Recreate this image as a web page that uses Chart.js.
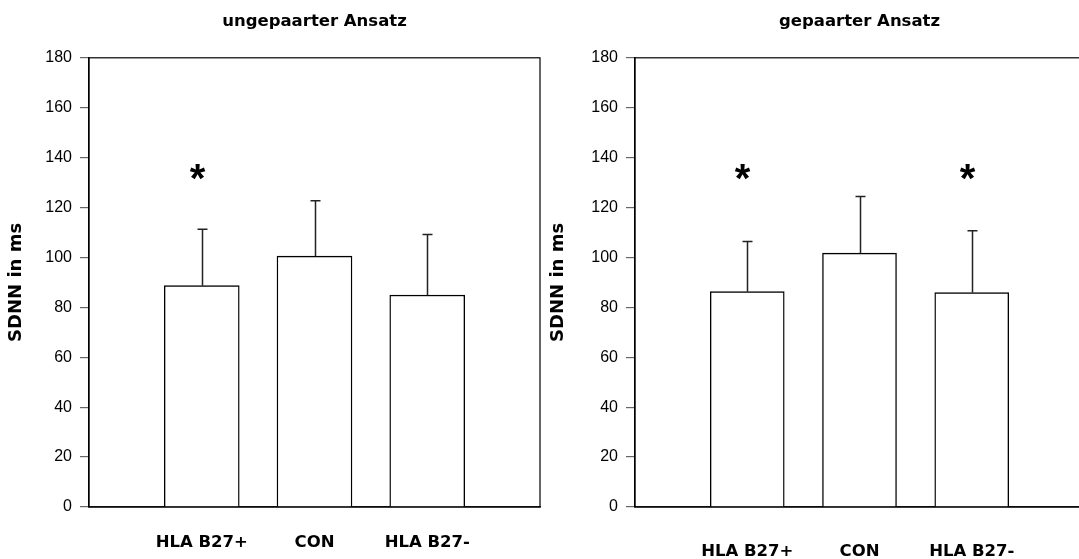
<!DOCTYPE html>
<html>
<head>
<meta charset="utf-8">
<script src="https://cdn.jsdelivr.net/npm/chart.js@4.4.1/dist/chart.umd.min.js"></script>
<style>
  html, body { margin: 0; padding: 0; overflow: hidden; background: #fff; width: 1079px; height: 559px; }
  #links { position: absolute; left: 0; top: 0; }
  #rechts { position: absolute; left: 540px; top: 0; }
</style>
</head>
<body>
<canvas id="links" width="542" height="559"></canvas>
<canvas id="rechts" width="546" height="559"></canvas>
<script>
// Werte (SDNN in ms, Mittelwert und SD)
const kategorien = ['HLA B27+', 'CON', 'HLA B27-'];
const ungepaartMittel = [88.7, 100.5, 84.9];
const ungepaartSD = [22.6, 22.2, 24.3];
const ungepaartStern = [true, false, false];
const gepaartMittel = [86.3, 101.7, 85.9];
const gepaartSD = [20.1, 22.7, 24.8];
const gepaartStern = [true, false, true];
const sternWert = 134;
const yMin = 0, yMax = 180, yStep = 20;

Chart.defaults.font.family = "'Liberation Sans', Arial, sans-serif";
Chart.defaults.color = '#000';

const fettSchrift = "'DejaVu Sans', sans-serif";

// Rahmen, Fehlerbalken und Sternchen
const fehlerbalken = {
  id: 'fehlerbalken',
  afterDatasetsDraw(chart, args, opts) {
    const { ctx, chartArea: a } = chart;
    const x = chart.scales.x, y = chart.scales.y;
    ctx.save();
    ctx.strokeStyle = '#000';
    ctx.lineWidth = 1.2;
    ctx.strokeRect(a.left, a.top, a.right - a.left, a.bottom - a.top);
    opts.mittel.forEach((m, i) => {
      const px = Math.round(x.getPixelForValue(i + 1)) + 0.5;
      const yu = y.getPixelForValue(m);
      const yo = y.getPixelForValue(m + opts.sd[i]);
      ctx.strokeStyle = '#222';
      ctx.lineWidth = 1.5;
      ctx.beginPath();
      ctx.moveTo(px, yu);
      ctx.lineTo(px, yo);
      ctx.moveTo(px - 5, yo);
      ctx.lineTo(px + 5, yo);
      ctx.stroke();
      if (opts.stern[i]) {
        const gr = 40;
        ctx.font = 'bold ' + gr + "px 'Liberation Sans', Arial, sans-serif";
        ctx.fillStyle = '#000';
        ctx.textAlign = 'center';
        ctx.textBaseline = 'alphabetic';
        ctx.fillText('*', px - 5, y.getPixelForValue(sternWert) + gr * 0.48);
      }
    });
    ctx.restore();
  }
};

function baueDiagramm(id, titel, mittel, sd, stern, achsBreite, titelPad, labelPad, balken) {
  new Chart(document.getElementById(id), {
    type: 'bar',
    data: {
      labels: ['', ...kategorien, ''],
      datasets: [{
        data: [null, ...mittel, null],
        backgroundColor: '#fff',
        borderColor: '#000',
        borderWidth: 1.4,
        barThickness: balken
      }]
    },
    options: {
      responsive: false,
      animation: false,
      layout: { padding: { left: 0, right: 2, top: 0, bottom: 0 } },
      plugins: {
        legend: { display: false },
        tooltip: { enabled: false },
        title: {
          display: true,
          fullSize: false,
          text: titel,
          font: { family: fettSchrift, size: 16.5, weight: 'bold' },
          color: '#000',
          padding: { top: 12, bottom: 26 }
        },
        fehlerbalken: { mittel, sd, stern }
      },
      scales: {
        x: {
          offset: false,
          grid: { display: true, drawOnChartArea: false, drawTicks: true, tickLength: labelPad, color: 'rgba(0,0,0,0)' },
          border: { color: '#222', width: 1.6 },
          ticks: {
            autoSkip: false,
            maxRotation: 0,
            padding: 0,
            font: { family: fettSchrift, size: 16.5, weight: 'bold' }
          },
          afterFit(s) { s.height = 52; }
        },
        y: {
          min: yMin,
          max: yMax,
          ticks: { stepSize: yStep, padding: 8, font: { size: 16 } },
          grid: { drawOnChartArea: false, tickLength: 9, color: '#666', lineWidth: 1.2 },
          border: { color: '#000', width: 1.3 },
          title: {
            display: true,
            text: 'SDNN in ms',
            font: { family: fettSchrift, size: 18, weight: 'bold' },
            padding: { top: titelPad, bottom: 0 }
          },
          afterFit(s) { s.width = achsBreite; }
        }
      }
    },
    plugins: [fehlerbalken]
  });
}

baueDiagramm('links', 'ungepaarter Ansatz', ungepaartMittel, ungepaartSD, ungepaartStern, 89, 6, 26, 75);
baueDiagramm('rechts', 'gepaarter Ansatz', gepaartMittel, gepaartSD, gepaartStern, 95, 8, 35, 74);
</script>
</body>
</html>
